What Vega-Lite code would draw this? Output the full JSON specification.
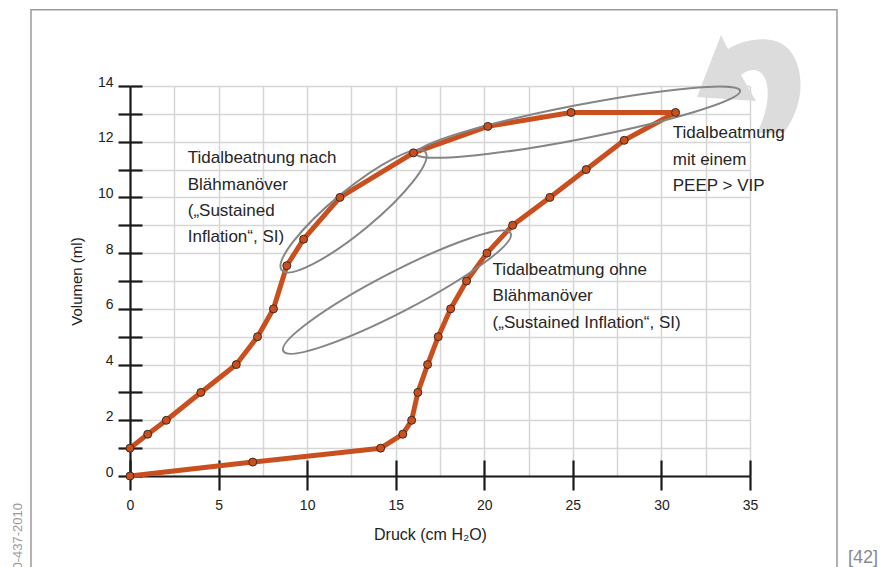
{
  "$schema": "https://vega.github.io/schema/vega-lite/v6.json",
  "width": 620,
  "height": 390,
  "autosize": "none",
  "padding": {"left": 130, "top": 86, "right": 130, "bottom": 91},
  "background": "#ffffff",
  "config": {"view": {"stroke": null}, "font": "Liberation Sans"},
  "datasets": {
    "loop": [
      {"o": 1, "p": 0, "v": 0},
      {"o": 2, "p": 6.93, "v": 0.5},
      {"o": 3, "p": 14.15, "v": 1.0},
      {"o": 4, "p": 15.4, "v": 1.5},
      {"o": 5, "p": 15.9, "v": 2.0},
      {"o": 6, "p": 16.25, "v": 3.0},
      {"o": 7, "p": 16.8, "v": 4.0},
      {"o": 8, "p": 17.4, "v": 5.0},
      {"o": 9, "p": 18.1, "v": 6.0},
      {"o": 10, "p": 19.0, "v": 7.0},
      {"o": 11, "p": 20.15, "v": 8.0},
      {"o": 12, "p": 21.6, "v": 9.0},
      {"o": 13, "p": 23.7, "v": 10.0},
      {"o": 14, "p": 25.75, "v": 11.0},
      {"o": 15, "p": 27.9, "v": 12.05},
      {"o": 16, "p": 30.8, "v": 13.05},
      {"o": 17, "p": 24.9, "v": 13.05},
      {"o": 18, "p": 20.2, "v": 12.55},
      {"o": 19, "p": 16.0, "v": 11.6},
      {"o": 20, "p": 11.85, "v": 10.0},
      {"o": 21, "p": 9.8, "v": 8.5},
      {"o": 22, "p": 8.85, "v": 7.55},
      {"o": 23, "p": 8.1, "v": 6.0},
      {"o": 24, "p": 7.2, "v": 5.0},
      {"o": 25, "p": 6.0, "v": 4.0},
      {"o": 26, "p": 4.0, "v": 3.0},
      {"o": 27, "p": 2.05, "v": 2.0},
      {"o": 28, "p": 1.0, "v": 1.5},
      {"o": 29, "p": 0, "v": 1.0}
    ],
    "frame": [{"x1": -5.59, "x2": 39.91, "y1": 16.74, "y2": -3.6}],
    "arrow": [{"p": 35.0, "v": 14.04}],
    "e1": [{"p": 25.3, "v": 12.7}],
    "e2": [{"p": 12.62, "v": 9.51}],
    "e3": [{"p": 15.07, "v": 6.6}],
    "notes": [
      {"p": 3.26, "v": 11.225, "t": "Tidalbeatnung nach\nBlähmanöver\n(„Sustained\nInflation“, SI)"},
      {"p": 20.47, "v": 7.215, "t": "Tidalbeatmung ohne\nBlähmanöver\n(„Sustained Inflation“, SI)"},
      {"p": 30.64, "v": 12.12, "t": "Tidalbeatmung\nmit einem\nPEEP > VIP"}
    ],
    "code": [{"p": -6.1, "v": -0.97, "t": "0-437-2010"}],
    "ref": [{"p": 42.23, "v": -3.12, "t": "[42]"}]
  },
  "resolve": {"axis": {"x": "independent", "y": "independent"}},
  "layer": [
    {
      "data": {"name": "frame"},
      "mark": {"type": "rect", "fillOpacity": 0, "stroke": "#9a9a9a", "strokeWidth": 1.5},
      "encoding": {
        "x": {"field": "x1", "type": "quantitative", "scale": {"domain": [0, 35], "nice": false, "zero": false},
          "axis": {"orient": "bottom", "values": [0, 2.5, 5, 7.5, 10, 12.5, 15, 17.5, 20, 22.5, 25, 27.5, 30, 32.5, 35], "grid": true, "gridColor": "#d6d6d6", "gridWidth": 1.5, "domain": false, "ticks": false, "labels": false, "title": null}},
        "x2": {"field": "x2"},
        "y": {"field": "y1", "type": "quantitative", "scale": {"domain": [0, 14], "nice": false, "zero": false},
          "axis": {"orient": "left", "values": [0, 1, 2, 3, 4, 5, 6, 7, 8, 9, 10, 11, 12, 13, 14], "grid": true, "gridColor": "#d6d6d6", "gridWidth": 1.5, "domain": false, "ticks": false, "labels": false, "title": null}},
        "y2": {"field": "y2"}
      }
    },
    {
      "data": {"name": "arrow"},
      "mark": {"type": "point", "filled": true, "opacity": 1, "fill": "#dcdcdc", "strokeWidth": 0, "size": 4,
        "shape": "M -53 12 L -29 -50 L -22 -36 C -5 -46 20 -50 35 -39 C 51 -27 54 2 47 22 C 43 34 38 42 34 48 L 7 48 C 14 35 20 15 17 0 C 15 -12 6 -19 -6 -12 L -9 -10 L 6 16 Z"},
      "encoding": {
        "x": {"field": "p", "type": "quantitative", "scale": {"domain": [0, 35], "nice": false, "zero": false}, "axis": null},
        "y": {"field": "v", "type": "quantitative", "scale": {"domain": [0, 14], "nice": false, "zero": false}, "axis": null}
      }
    },
    {
      "data": {"name": "loop"},
      "mark": {"type": "line", "color": "#c9501e", "strokeWidth": 5, "strokeJoin": "round", "strokeCap": "round"},
      "encoding": {
        "x": {"field": "p", "type": "quantitative", "scale": {"domain": [0, 35], "nice": false, "zero": false},
          "axis": {"orient": "bottom", "values": [0, 5, 10, 15, 20, 25, 30, 35], "grid": false, "domain": true, "domainColor": "#1a1a1a", "domainWidth": 2.2, "ticks": true, "tickColor": "#1a1a1a", "tickWidth": 2.2, "tickSize": 14, "labelFont": "Liberation Sans", "labelFontSize": 14, "labelColor": "#222222", "labelPadding": 8, "labelFlush": false, "labelOverlap": false, "title": "Druck (cm H₂O)", "titleFont": "Liberation Sans", "titleFontSize": 16, "titleFontWeight": "normal", "titleColor": "#222222", "titlePadding": 14, "titleX": 300}},
        "y": {"field": "v", "type": "quantitative", "scale": {"domain": [0, 14], "nice": false, "zero": false},
          "axis": {"orient": "left", "values": [0, 1, 2, 3, 4, 5, 6, 7, 8, 9, 10, 11, 12, 13, 14], "labelExpr": "datum.value % 2 === 0 ? datum.label : ''", "grid": false, "domain": true, "domainColor": "#1a1a1a", "domainWidth": 2.2, "ticks": true, "tickColor": "#1a1a1a", "tickWidth": 2.2, "tickSize": 12, "labelFont": "Liberation Sans", "labelFontSize": 14, "labelColor": "#222222", "labelPadding": 5, "labelBaseline": "alphabetic", "labelFlush": false, "labelOverlap": false, "title": "Volumen (ml)", "titleFont": "Liberation Sans", "titleFontSize": 15, "titleFontWeight": "normal", "titleColor": "#222222", "titlePadding": 13}},
        "order": {"field": "o", "type": "quantitative"}
      }
    },
    {
      "data": {"name": "e1"},
      "mark": {"type": "point", "filled": false, "opacity": 1, "stroke": "#858585", "strokeWidth": 2, "size": 4, "angle": 349,
        "shape": "M -165 0 A 165 17 0 1 1 165 0 A 165 17 0 1 1 -165 0 Z"},
      "encoding": {
        "x": {"field": "p", "type": "quantitative", "scale": {"domain": [0, 35], "nice": false, "zero": false}, "axis": null},
        "y": {"field": "v", "type": "quantitative", "scale": {"domain": [0, 14], "nice": false, "zero": false}, "axis": null}
      }
    },
    {
      "data": {"name": "e2"},
      "mark": {"type": "point", "filled": false, "opacity": 1, "stroke": "#858585", "strokeWidth": 2, "size": 4, "angle": 320.5,
        "shape": "M -93 0 A 93 21 0 1 1 93 0 A 93 21 0 1 1 -93 0 Z"},
      "encoding": {
        "x": {"field": "p", "type": "quantitative", "scale": {"domain": [0, 35], "nice": false, "zero": false}, "axis": null},
        "y": {"field": "v", "type": "quantitative", "scale": {"domain": [0, 14], "nice": false, "zero": false}, "axis": null}
      }
    },
    {
      "data": {"name": "e3"},
      "mark": {"type": "point", "filled": false, "opacity": 1, "stroke": "#858585", "strokeWidth": 2, "size": 4, "angle": 332.6,
        "shape": "M -128 0 A 128 20 0 1 1 128 0 A 128 20 0 1 1 -128 0 Z"},
      "encoding": {
        "x": {"field": "p", "type": "quantitative", "scale": {"domain": [0, 35], "nice": false, "zero": false}, "axis": null},
        "y": {"field": "v", "type": "quantitative", "scale": {"domain": [0, 14], "nice": false, "zero": false}, "axis": null}
      }
    },
    {
      "data": {"name": "loop"},
      "mark": {"type": "circle", "opacity": 1, "color": "#c9501e", "stroke": "#3b2b22", "strokeWidth": 1, "size": 64},
      "encoding": {
        "x": {"field": "p", "type": "quantitative", "scale": {"domain": [0, 35], "nice": false, "zero": false},
          "axis": {"orient": "bottom", "values": [0, 5, 10, 15, 20, 25, 30, 35], "grid": false, "domain": false, "labels": false, "title": null, "ticks": true, "tickColor": "#1a1a1a", "tickWidth": 2.2, "tickSize": -16}},
        "y": {"field": "v", "type": "quantitative", "scale": {"domain": [0, 14], "nice": false, "zero": false},
          "axis": {"orient": "left", "values": [0, 1, 2, 3, 4, 5, 6, 7, 8, 9, 10, 11, 12, 13, 14], "grid": false, "domain": false, "labels": false, "title": null, "ticks": true, "tickColor": "#1a1a1a", "tickWidth": 2.2, "tickSize": -12}}
      }
    },
    {
      "data": {"name": "notes"},
      "mark": {"type": "text", "align": "left", "baseline": "alphabetic", "fontSize": 17, "lineBreak": "\n", "lineHeight": 26.3, "color": "#262626", "font": "Liberation Sans"},
      "encoding": {
        "x": {"field": "p", "type": "quantitative", "scale": {"domain": [0, 35], "nice": false, "zero": false}, "axis": null},
        "y": {"field": "v", "type": "quantitative", "scale": {"domain": [0, 14], "nice": false, "zero": false}, "axis": null},
        "text": {"field": "t", "type": "nominal"}
      }
    },
    {
      "data": {"name": "code"},
      "mark": {"type": "text", "align": "right", "baseline": "alphabetic", "angle": 270, "fontSize": 13, "color": "#9a9a9a", "font": "Liberation Sans"},
      "encoding": {
        "x": {"field": "p", "type": "quantitative", "scale": {"domain": [0, 35], "nice": false, "zero": false}, "axis": null},
        "y": {"field": "v", "type": "quantitative", "scale": {"domain": [0, 14], "nice": false, "zero": false}, "axis": null},
        "text": {"field": "t", "type": "nominal"}
      }
    },
    {
      "data": {"name": "ref"},
      "mark": {"type": "text", "align": "right", "baseline": "alphabetic", "fontSize": 18, "color": "#8a8a8a", "font": "Liberation Sans"},
      "encoding": {
        "x": {"field": "p", "type": "quantitative", "scale": {"domain": [0, 35], "nice": false, "zero": false}, "axis": null},
        "y": {"field": "v", "type": "quantitative", "scale": {"domain": [0, 14], "nice": false, "zero": false}, "axis": null},
        "text": {"field": "t", "type": "nominal"}
      }
    }
  ]
}
